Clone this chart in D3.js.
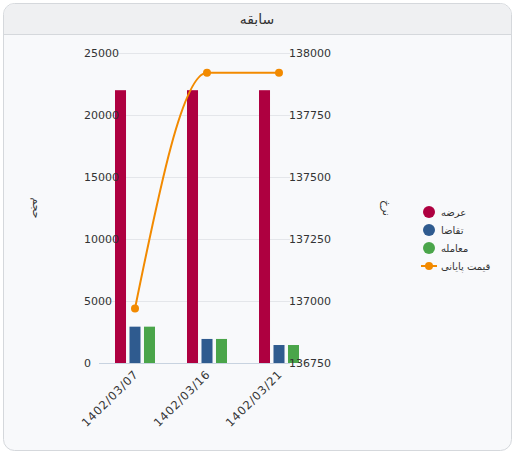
<!DOCTYPE html>
<html>
<head>
<meta charset="utf-8">
<script src="https://cdn.jsdelivr.net/npm/d3@7"></script>
<style>
  body { margin: 0; background: #ffffff; font-family: "DejaVu Sans", "Noto Sans", sans-serif; }
  svg text { fill: #333; }
</style>
</head>
<body>
<div id="chart"></div>
<script>
// Data
var dates = ["1402/03/07", "1402/03/16", "1402/03/21"];
var seriesNames = ["عرضه", "تقاضا", "معامله"];
var supply = [22000, 22000, 22000];
var demand = [2930, 1940, 1450];
var trades = [2930, 1940, 1450];
var closePrice = [136970, 137920, 137920];
var leftTicks = [0, 5000, 10000, 15000, 20000, 25000];
var rightTicks = [136750, 137000, 137250, 137500, 137750, 138000];
var colors = ["#ae0040", "#2f5b8f", "#4aa54a"];
var lineColor = "#f28a00";

var width = 515, height = 454;
var plotTop = 53, plotBottom = 363;
var plotLeft = 99, plotRight = 290;

var svg = d3.select("#chart").append("svg")
    .attr("width", width)
    .attr("height", height);

// Card with header
svg.append("rect")
    .attr("x", 3.5).attr("y", 3.5)
    .attr("width", 508).attr("height", 447)
    .attr("rx", 11)
    .attr("fill", "#f8f9fb")
    .attr("stroke", "#d5d8dc");

svg.append("path")
    .attr("d", "M4,34.5 V14.5 A10.5,10.5 0 0 1 14.5,4 H500.5 A10.5,10.5 0 0 1 511,14.5 V34.5 Z")
    .attr("fill", "#eff0f2");
svg.append("line")
    .attr("x1", 3.5).attr("x2", 511.5)
    .attr("y1", 34.5).attr("y2", 34.5)
    .attr("stroke", "#d5d8dc");

svg.append("text")
    .attr("x", 257).attr("y", 24)
    .attr("text-anchor", "middle")
    .attr("font-size", 14)
    .text("سابقه");

// Scales
var x0 = d3.scaleBand().domain(dates).range([99, 315]);
var x1 = d3.scaleBand().domain(seriesNames).range([0, 40]).paddingInner(0.24);
var yLeft = d3.scaleLinear().domain([0, 25000]).range([plotBottom, plotTop]);
var yRight = d3.scaleLinear().domain([136750, 138000]).range([plotBottom, plotTop]);

// Grid lines
svg.append("g").selectAll("line")
    .data(leftTicks.slice(1))
    .enter().append("line")
    .attr("x1", plotLeft).attr("x2", plotRight)
    .attr("y1", d => Math.round(yLeft(d)) + 0.5)
    .attr("y2", d => Math.round(yLeft(d)) + 0.5)
    .attr("stroke", "#e4e6ea");

// Bars
var seriesValues = [supply, demand, trades];
var groups = svg.append("g").selectAll("g")
    .data(dates)
    .enter().append("g")
    .attr("transform", d => `translate(${x0(d) + x0.bandwidth() / 2 - 20},0)`);

groups.selectAll("rect")
    .data((d, i) => seriesNames.map((s, j) => ({ s: s, j: j, v: seriesValues[j][i] })))
    .enter().append("rect")
    .attr("x", d => x1(d.s))
    .attr("width", x1.bandwidth())
    .attr("y", d => yLeft(d.v))
    .attr("height", d => plotBottom - yLeft(d.v))
    .attr("fill", d => colors[d.j]);

// X axis line
svg.append("line")
    .attr("x1", plotLeft).attr("x2", plotRight)
    .attr("y1", plotBottom + 0.5).attr("y2", plotBottom + 0.5)
    .attr("stroke", "#c8d3e0");

// Left axis labels
svg.append("g").selectAll("text")
    .data(leftTicks)
    .enter().append("text")
    .attr("x", 84)
    .attr("y", d => yLeft(d) + 4)
    .attr("font-size", 11)
    .text(d => d);

// Right axis labels
svg.append("g").selectAll("text")
    .data(rightTicks)
    .enter().append("text")
    .attr("x", 289)
    .attr("y", d => yRight(d) + 4)
    .attr("font-size", 11)
    .text(d => d);

// Axis titles
svg.append("text")
    .attr("transform", "translate(33,208) rotate(90)")
    .attr("text-anchor", "middle")
    .attr("font-size", 11)
    .text("حجم");
svg.append("text")
    .attr("transform", "translate(383,208) rotate(90)")
    .attr("text-anchor", "middle")
    .attr("font-size", 11)
    .text("نرخ");

// X labels
svg.append("g").selectAll("text")
    .data(dates)
    .enter().append("text")
    .attr("transform", d => `translate(${x0(d) + x0.bandwidth() / 2 + 4},${plotBottom + 12}) rotate(-45)`)
    .attr("text-anchor", "end")
    .attr("font-size", 11.5)
    .attr("letter-spacing", 0.8)
    .text(d => d);

// Price line
var line = d3.line()
    .x((d, i) => x0(dates[i]) + x0.bandwidth() / 2)
    .y(d => yRight(d))
    .curve(d3.curveMonotoneX);

svg.append("path")
    .datum(closePrice)
    .attr("d", line)
    .attr("fill", "none")
    .attr("stroke", lineColor)
    .attr("stroke-width", 2);

svg.append("g").selectAll("circle")
    .data(closePrice)
    .enter().append("circle")
    .attr("cx", (d, i) => x0(dates[i]) + x0.bandwidth() / 2)
    .attr("cy", d => yRight(d))
    .attr("r", 4)
    .attr("fill", lineColor);

// Legend
var legend = svg.append("g").attr("transform", "translate(429,212)");
seriesNames.forEach(function (s, i) {
    legend.append("circle")
        .attr("cx", 0).attr("cy", i * 18)
        .attr("r", 6)
        .attr("fill", colors[i]);
    legend.append("text")
        .attr("x", 12).attr("y", i * 18 + 4)
        .attr("font-size", 10)
        .text(s);
});
legend.append("line")
    .attr("x1", -8).attr("x2", 8)
    .attr("y1", 54).attr("y2", 54)
    .attr("stroke", lineColor).attr("stroke-width", 2);
legend.append("circle")
    .attr("cx", 0).attr("cy", 54).attr("r", 4)
    .attr("fill", lineColor);
legend.append("text")
    .attr("x", 12).attr("y", 58)
    .attr("font-size", 10)
    .text("قیمت پایانی");
</script>
</body>
</html>
